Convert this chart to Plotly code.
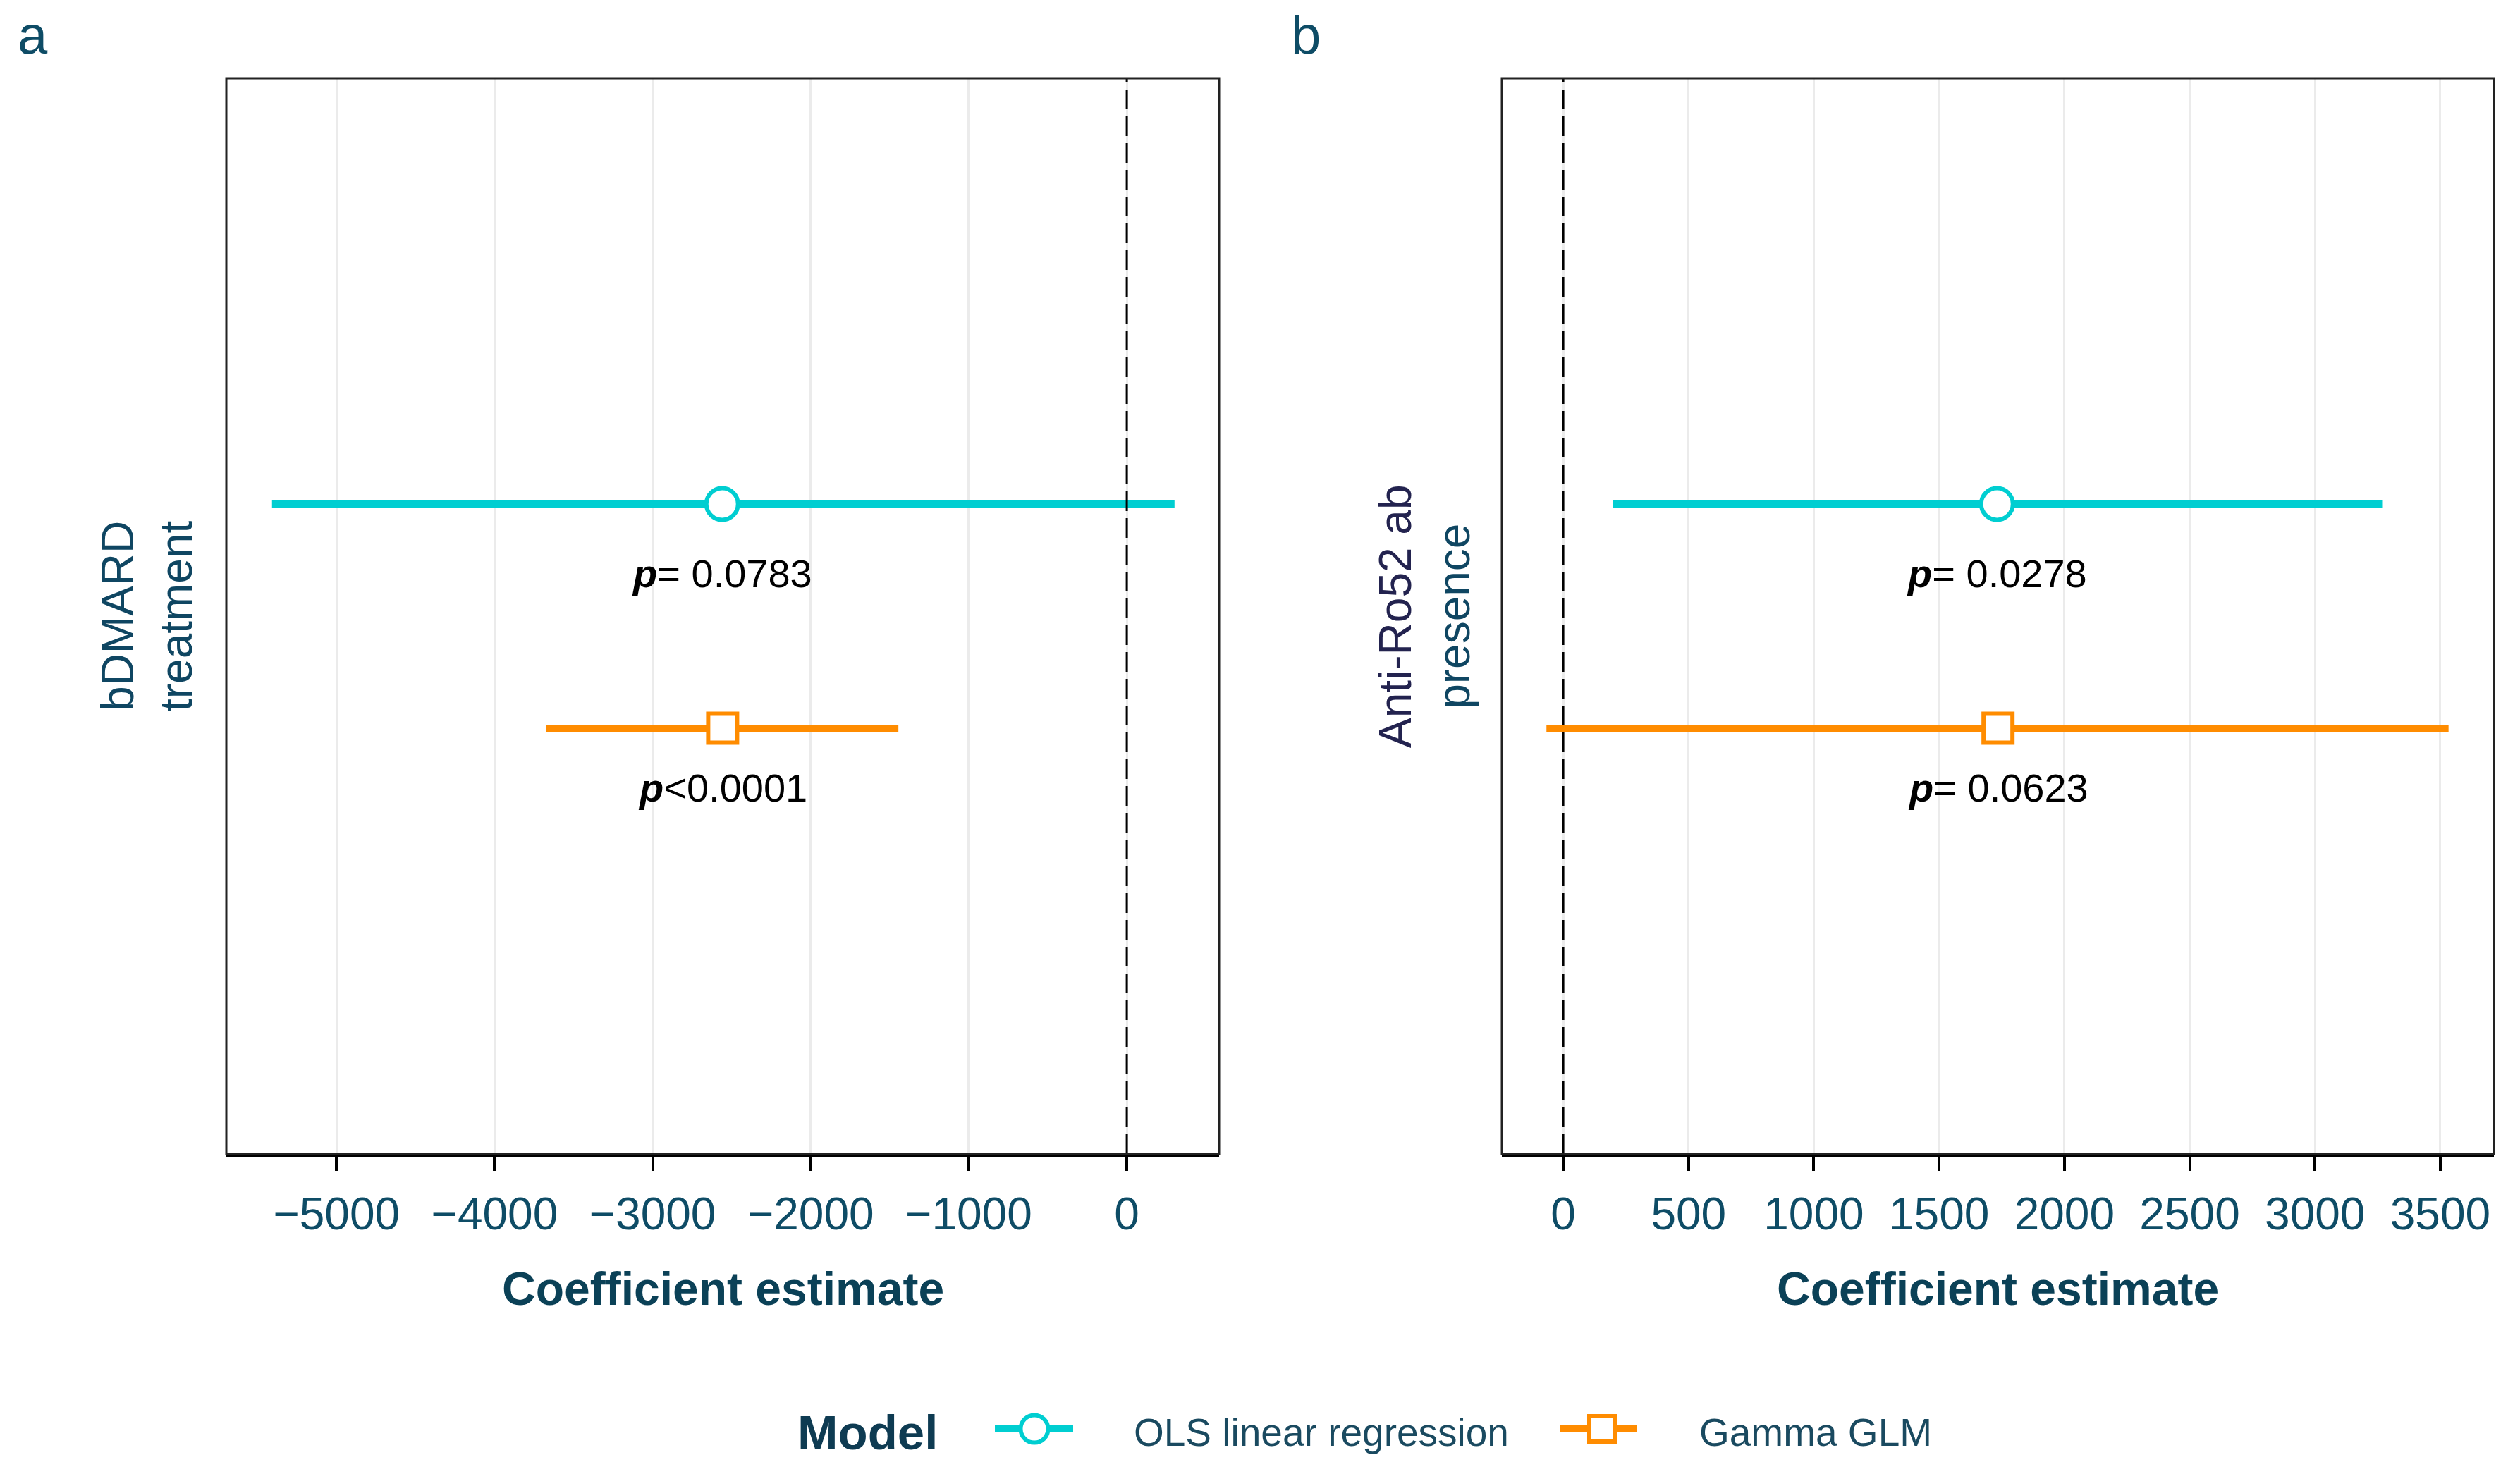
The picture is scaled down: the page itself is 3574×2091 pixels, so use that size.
import plotly.graph_objects as go

# ---------------- data ----------------
categories = ["bDMARD<br>treatment",
              "<span style='color:#23234F'>Anti-Ro52 ab</span><br>presence"]
models = ["OLS linear regression", "Gamma GLM"]

ols_est = [-2560, 1731]
ols_low = [-5408, 197]
ols_high = [302, 3268]
ols_p = ["= 0.0783", "= 0.0278"]

gam_est = [-2557, 1735]
gam_low = [-3675, -67]
gam_high = [-1445, 3533]
gam_p = ["&lt;0.0001", "= 0.0623"]

ticks_a = [-5000, -4000, -3000, -2000, -1000, 0]
ticks_b = [0, 500, 1000, 1500, 2000, 2500, 3000, 3500]
ranges = [[-5697, 584], [-245, 3714]]
panel_letters = ["a", "b"]

# ---------------- style ----------------
W, H = 3574, 2091
OFF = 8  # page body margin compensation
FONT = "Arial, Liberation Sans, sans-serif"
CYAN = "#00CED1"
ORANGE = "#FF8C00"
TEXT = "#0E4C66"
TITLE = "#0B4157"
dodge = {"OLS linear regression": 0.125, "Gamma GLM": -0.125}
p_shift = {"OLS linear regression": -98, "Gamma GLM": -85}

def px_x(v):
    return (v - OFF) / W

def px_y(v):
    return 1 - (v - OFF) / H

dom_x = [[px_x(321), px_x(1729)], [px_x(2130), px_x(3537)]]
dom_y = [px_y(1637), px_y(111)]

fig = go.Figure()

series = [
    ("OLS linear regression", ols_est, ols_low, ols_high, ols_p, CYAN, "circle", 45),
    ("Gamma GLM", gam_est, gam_low, gam_high, gam_p, ORANGE, "square", 41),
]

annotations = []
shapes = []
for i in range(2):
    xa = "x" if i == 0 else "x2"
    ya = "y" if i == 0 else "y2"
    for name, est, lo, hi, pv, col, sym, sz in series:
        ypos = 1 + dodge[name]
        fig.add_trace(go.Scatter(
            x=[est[i]], y=[ypos], xaxis=xa, yaxis=ya,
            mode="lines+markers", name=name, showlegend=False,
            line=dict(color=col, width=10),
            marker=dict(symbol=sym, size=sz, color="white",
                        line=dict(color=col, width=6)),
            error_x=dict(type="data", symmetric=False,
                         array=[hi[i] - est[i]], arrayminus=[est[i] - lo[i]],
                         color=col, thickness=10, width=0),
            hoverinfo="skip",
        ))
        annotations.append(dict(
            x=est[i], y=ypos, xref=xa, yref=ya, yshift=p_shift[name],
            text="<b><i>p</i></b>" + pv[i], showarrow=False,
            font=dict(family=FONT, size=56, color="black"),
            xanchor="center", yanchor="middle"))
    # zero dashed line
    shapes.append(dict(type="line", xref=xa, yref=ya + " domain",
                       x0=0, x1=0, y0=0, y1=1,
                       line=dict(color="black", width=3, dash="28px,10px")))
    # panel border
    shapes.append(dict(type="rect", xref=xa + " domain", yref=ya + " domain",
                       x0=0, x1=1, y0=0, y1=1, layer="above",
                       line=dict(color="#222222", width=3)))
    # x title
    annotations.append(dict(
        x=(dom_x[i][0] + dom_x[i][1]) / 2, y=px_y(1828), xref="paper", yref="paper",
        text="<b>Coefficient estimate</b>", showarrow=False,
        font=dict(family=FONT, size=66, color=TITLE),
        xanchor="center", yanchor="middle"))
    # y title
    annotations.append(dict(
        x=px_x(208 if i == 0 else 2020), y=(dom_y[0] + dom_y[1]) / 2,
        xref="paper", yref="paper", text=categories[i], textangle=-90,
        showarrow=False, font=dict(family=FONT, size=64, color="#0F4662"),
        xanchor="center", yanchor="middle"))
    # panel letter
    annotations.append(dict(
        x=px_x(46 if i == 0 else 1852), y=px_y(49), xref="paper", yref="paper",
        text=panel_letters[i], showarrow=False,
        font=dict(family=FONT, size=76, color=TEXT),
        xanchor="center", yanchor="middle"))

# ---------------- manual legend ----------------
leg_y = 2027
annotations.append(dict(x=px_x(1129), y=px_y(2032), xref="paper", yref="paper",
                        text="<b>Model</b>", showarrow=False, xanchor="left", yanchor="middle",
                        font=dict(family=FONT, size=69, color="#0E3B52")))
legend_items = [
    (models[0], CYAN, "circle", 1411, 1522, 1467, 39, 1606),
    (models[1], ORANGE, "rect", 2213, 2321, 2272, 36, 2408),
]
for name, col, shp, lx0, lx1, cx, d, tx in legend_items:
    shapes.append(dict(type="line", xref="paper", yref="paper",
                       x0=px_x(lx0), x1=px_x(lx1), y0=px_y(leg_y), y1=px_y(leg_y),
                       line=dict(color=col, width=10)))
    shapes.append(dict(type=shp, xref="paper", yref="paper",
                       x0=px_x(cx - d / 2), x1=px_x(cx + d / 2),
                       y0=px_y(leg_y + d / 2), y1=px_y(leg_y - d / 2),
                       fillcolor="white", line=dict(color=col, width=6)))
    annotations.append(dict(x=px_x(tx), y=px_y(2032), xref="paper", yref="paper",
                            text=name, showarrow=False, xanchor="left", yanchor="middle",
                            font=dict(family=FONT, size=55, color="#1A4A60")))

axis_common = dict(
    showgrid=True, gridcolor="#EBEBEB", gridwidth=3,
    zeroline=False, showline=True, linecolor="black", linewidth=5,
    ticks="outside", ticklen=19, tickwidth=4, tickcolor="black",
    ticklabelstandoff=6,
    tickfont=dict(family=FONT, size=64, color=TEXT),
    automargin=False, fixedrange=True,
)
yaxis_common = dict(range=[0.4, 1.6], showgrid=False, zeroline=False,
                    showticklabels=False, ticks="", showline=False,
                    automargin=False, fixedrange=True)

fig.update_layout(
    width=W, height=H, autosize=False,
    margin=dict(l=0, r=0, t=0, b=0),
    paper_bgcolor="white", plot_bgcolor="white",
    showlegend=False,
    xaxis=dict(domain=dom_x[0], range=ranges[0], tickvals=ticks_a, anchor="y", **axis_common),
    xaxis2=dict(domain=dom_x[1], range=ranges[1], tickvals=ticks_b, anchor="y2", **axis_common),
    yaxis=dict(domain=dom_y, anchor="x", **yaxis_common),
    yaxis2=dict(domain=dom_y, anchor="x2", **yaxis_common),
    annotations=annotations,
    shapes=shapes,
)

fig.write_html("out.html")
